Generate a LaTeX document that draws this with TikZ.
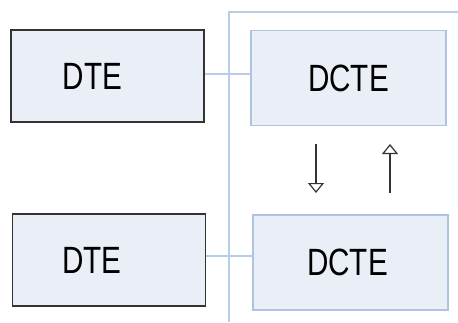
\documentclass[tikz,border=0pt]{standalone}
\usepackage{fontspec}
\newfontfamily\lbl[FakeStretch=0.78]{Liberation Sans}
\usetikzlibrary{arrows.meta}
\definecolor{boxfill}{HTML}{E9EEF7}
\definecolor{dteline}{HTML}{333333}
\definecolor{dcteline}{HTML}{AEC3E2}
\definecolor{wire}{HTML}{B9CCE8}
\tikzset{
  x=1pt,y=-1pt,
  dtebox/.style={draw=dteline,line width=1.6pt,fill=boxfill,minimum width=193pt,minimum height=92pt,inner sep=0pt,
    font=\lbl\fontsize{38}{40}\selectfont},
  dctebox/.style={draw=dcteline,line width=1.4pt,fill=boxfill,minimum width=195pt,minimum height=95pt,inner sep=0pt,
    font=\lbl\fontsize{38}{40}\selectfont},
  wireline/.style={draw=wire,line width=1.5pt},
  flow/.style={draw=dteline,line width=1.2pt,-{Triangle[open,width=16pt,length=10pt,line width=1.2pt]}}
}
\begin{document}
\begin{tikzpicture}
\useasboundingbox (0,0) rectangle (458,322);
\fill[white] (0,0) rectangle (458,322);
\coordinate (vtop) at (229,12);
\coordinate (vbot) at (229,322);
\coordinate (hend) at (458,12);
\draw[wireline] (vbot) -- (vtop) -- (hend);
\node[dtebox] (dte1) at (107.5,76) {DTE\rule{30pt}{0pt}};
\node[dtebox] (dte2) at (109,260) {DTE\rule{34pt}{0pt}};
\node[dctebox] (dcte1) at (348.5,78) {DCTE};
\node[dctebox] (dcte2) at (350.5,262.5) {DCTE\rule{6pt}{0pt}};
\draw[wireline] (dte1.east |- 0,74) -- (dcte1.west |- 0,74);
\draw[wireline] (dte2.east |- 0,256) -- (dcte2.west |- 0,256);
\coordinate (a1s) at (316,144);
\coordinate (a1e) at (316,193);
\coordinate (a2s) at (390,193);
\coordinate (a2e) at (390,144);
\draw[flow] (a1s) -- (a1e);
\draw[flow] (a2s) -- (a2e);
\end{tikzpicture}
\end{document}
